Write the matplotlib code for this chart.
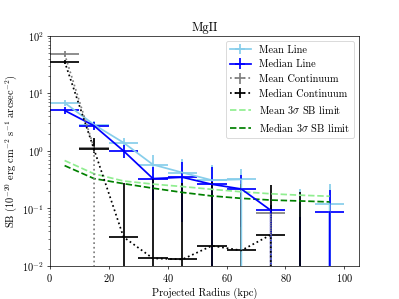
import numpy as np
import matplotlib
matplotlib.use("Agg")
import matplotlib.pyplot as plt

plt.rcParams['font.family'] = 'serif'
plt.rcParams['font.serif'] = ['cmr10', 'DejaVu Serif']
plt.rcParams['mathtext.fontset'] = 'cm'
plt.rcParams['axes.formatter.use_mathtext'] = True
plt.rcParams['font.size'] = 12

radius = [5, 15, 25, 35, 45, 55, 65, 75, 85, 95]
bin_half_width = 5

mean_line = [6.84, 2.85, 1.39, 0.577, 0.42, 0.31, 0.32, -0.05, -0.05, 0.119]
mean_line_err = [0.9, 0.45, 0.3, 0.26, 0.29, 0.25, 0.17, 0.15, 0.27, 0.15]

median_line = [5.03, 2.73, 1.0, 0.33, 0.348, 0.263, 0.218, 0.093, -0.05, 0.087]
median_line_err = [0.7, 0.45, 0.25, 0.19, 0.29, 0.27, 0.17, 0.02, 0.12, 0.12]

mean_cont = [48.0, 1.12, -0.05, -0.05, -0.05, -0.05, -0.05, 0.083, -0.05, -0.05]
mean_cont_err_lo = [6.0, 0.1, 0.03, 0.03, 0.03, 0.03, 0.03, 0.005, 0.03, 0.03]
mean_cont_err_hi = [6.0, 0.5, 0.03, 0.03, 0.03, 0.03, 0.03, 0.005, 0.03, 0.03]

median_cont = [35.5, 1.06, 0.032, 0.0136, 0.0131, 0.0225, 0.0187, 0.0348, -0.05, -0.1]
median_cont_err_lo = [3.0, 0.15, 0.3, 0.3, 0.3, 0.3, 0.3, 0.0, 0.3, 0.05]
median_cont_err_hi = [3.0, 0.63, 0.24, 0.32, 0.26, 0.27, 0.25, 0.22, 0.24, 0.05]

mean_limit = [0.68, 0.40, 0.30, 0.265, 0.24, 0.215, 0.195, 0.18, 0.17, 0.163]
median_limit = [0.555, 0.33, 0.27, 0.225, 0.19, 0.165, 0.15, 0.14, 0.135, 0.13]

fig, ax = plt.subplots(figsize=(6.4, 4.8), dpi=399/6.4)
ax.set_yscale('log')

lw = 2
h1 = ax.errorbar(radius, mean_line, yerr=mean_line_err, xerr=bin_half_width,
                 color='skyblue', fmt='-', lw=lw, label='Mean Line')
h2 = ax.errorbar(radius, median_line, yerr=median_line_err, xerr=bin_half_width,
                 color='blue', fmt='-', lw=lw, label='Median Line')
h3 = ax.errorbar(radius, mean_cont, yerr=[mean_cont_err_lo, mean_cont_err_hi],
                 xerr=bin_half_width, color='gray', fmt=':', lw=lw,
                 label='Mean Continuum')
h4 = ax.errorbar(radius, median_cont, yerr=[median_cont_err_lo, median_cont_err_hi],
                 xerr=bin_half_width, color='black', fmt=':', lw=lw,
                 label='Median Continuum')
h5, = ax.plot(radius, mean_limit, '--', color='lightgreen', lw=lw,
              label=r'Mean 3$\sigma$ SB limit')
h6, = ax.plot(radius, median_limit, '--', color='green', lw=lw,
              label=r'Median 3$\sigma$ SB limit')

ax.set_xlim(0, 105)
ax.set_ylim(1e-2, 1e2)
ax.set_xlabel('Projected Radius (kpc)')
ax.set_ylabel(r'SB (10$^{-20}$ erg cm$^{-2}$ s$^{-1}$ arcsec$^{-2}$)')
ax.set_title('MgII')
ax.legend(handles=[h1, h2, h3, h4, h5, h6], loc='upper right')

fig.savefig('out.png', dpi=399/6.4)
